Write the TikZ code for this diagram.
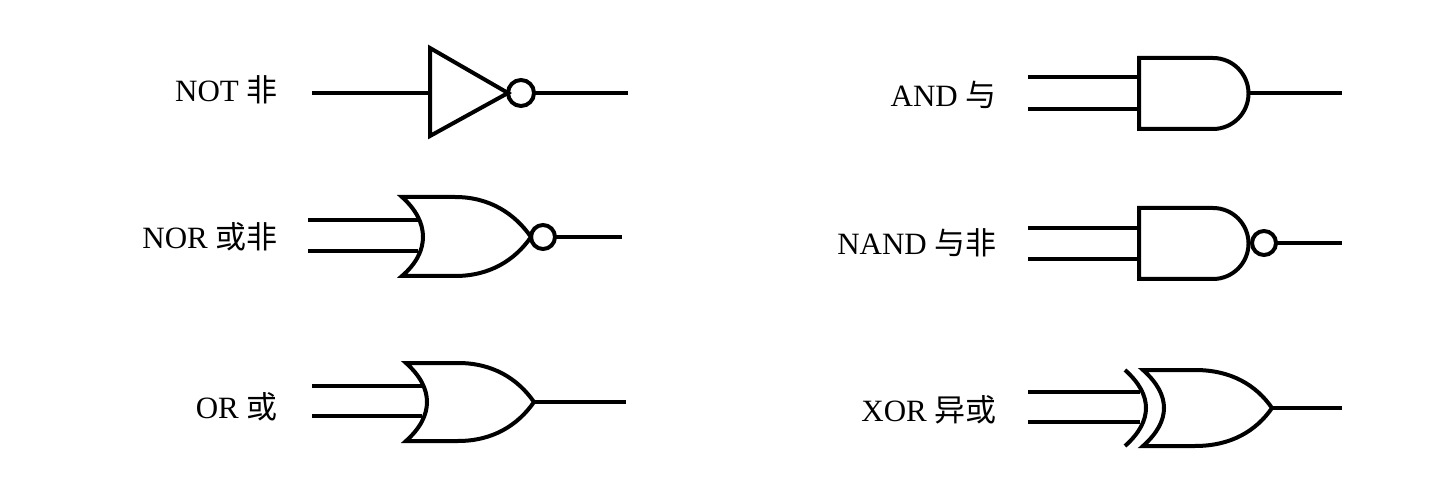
\documentclass[tikz,border=0pt]{standalone}
\usepackage{fontspec}
\setmainfont{Liberation Serif}
\newfontfamily\cjk{Noto Sans CJK SC}
\begin{document}
\begin{tikzpicture}[x=0.5pt,y=-0.5pt,
  w/.style={line width=2pt,line join=miter},
  lbl/.style={anchor=east,font=\fontsize{15.5}{18}\selectfont,inner sep=0pt}]
\useasboundingbox (0,0) rectangle (1440,486);
% NOT
\node[lbl] (tnot) at (278,90) {NOT {\cjk 非}};
\coordinate (a1) at (312,93);
\draw[w] (430,48) -- (430,136) -- (508,93) -- cycle;
\draw[w] (521,93) circle (6.5pt);
\draw[w] (a1) -- (430,93);
\draw[w] (534,93) -- (628,93);
% NOR
\node[lbl] (tnor) at (278,237) {NOR {\cjk 或非}};
\draw[w] (308,220) -- (418,220) (308,251) -- (418,251);
\draw[w] (402,197) .. controls (430,222) and (430,252) .. (402,276)
  -- (455,276) .. controls (490,276) and (515,260) .. (531,237)
  .. controls (515,214) and (490,197) .. (455,197) -- cycle;
\draw[w] (543,237) circle (6pt);
\draw[w] (555,237) -- (622,237);
% OR
\node[lbl] (tor) at (278,407) {OR {\cjk 或}};
\draw[w] (312,386) -- (422,386) (312,416) -- (422,416);
\draw[w] (406,363) .. controls (434,388) and (434,416) .. (406,441)
  -- (458,441) .. controls (493,441) and (518,425) .. (534,402)
  .. controls (518,379) and (493,363) .. (458,363) -- cycle;
\draw[w] (534,402) -- (626,402);
% AND
\node[lbl] (tand) at (997,95) {AND {\cjk 与}};
\draw[w] (1028,77) -- (1139,77) (1028,109) -- (1139,109);
\draw[w] (1139,58) -- (1213,58) arc[start angle=-90,end angle=90,radius=35.5] -- (1139,129) -- cycle;
\draw[w] (1249,93) -- (1342,93);
% NAND
\node[lbl] (tnand) at (997,243) {NAND {\cjk 与非}};
\draw[w] (1028,228) -- (1139,228) (1028,259) -- (1139,259);
\draw[w] (1139,208) -- (1213,208) arc[start angle=-90,end angle=90,radius=35.5] -- (1139,279) -- cycle;
\draw[w] (1264,243) circle (6pt);
\draw[w] (1276,243) -- (1342,243);
% XOR
\node[lbl] (txor) at (997,410) {XOR {\cjk 异或}};
\draw[w] (1028,392) -- (1140,392) (1028,422) -- (1140,422);
\draw[w] (1125,370) .. controls (1153,395) and (1153,421) .. (1125,446);
\draw[w] (1143,370) .. controls (1171,395) and (1171,421) .. (1143,446)
  -- (1195,446) .. controls (1231,446) and (1256,431) .. (1272,408)
  .. controls (1256,385) and (1231,370) .. (1195,370) -- cycle;
\draw[w] (1272,408) -- (1342,408);
\end{tikzpicture}
\end{document}
